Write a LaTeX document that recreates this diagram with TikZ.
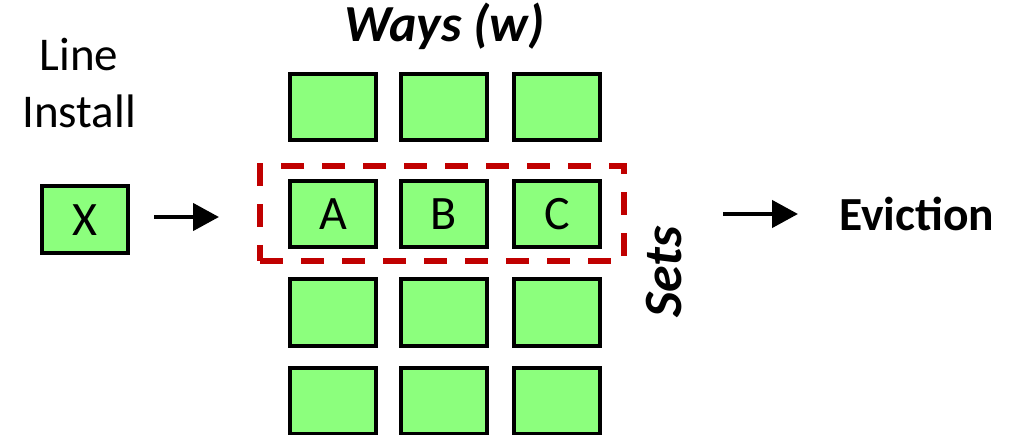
\documentclass[tikz,border=0pt]{standalone}
\usepackage{fontspec}
\setmainfont{Carlito}
\usetikzlibrary{arrows.meta}
\definecolor{cellgreen}{RGB}{140,255,125}
\definecolor{setred}{RGB}{192,0,0}

\begin{document}
\begin{tikzpicture}[x=1pt,y=-1pt,
  cell/.style={draw=black, line width=4pt, fill=cellgreen,
    minimum width=86pt, minimum height=66pt, inner sep=0pt,
    font=\fontsize{48}{58}\selectfont},
  flow/.style={line width=4.5pt, -{Triangle[length=26pt,width=27pt]}},
  setbox/.style={draw=setred, line width=5.5pt, dash pattern=on 23pt off 18pt,
    inner sep=0pt, minimum width=364pt, minimum height=95pt},
  label/.style={inner sep=0pt, anchor=base},
]
\useasboundingbox (0,0) rectangle (1016,435);

% incoming line
\node[label, font=\fontsize{47}{57}\selectfont] (lbl1) at (79,71) {Line};
\node[label, font=\fontsize{47}{57}\selectfont] (lbl2) at (79,128) {Install};
\node[cell, minimum height=67pt] (X) at (85,220) {X};

% cache array: 4 sets x 3 ways
\node[label, font=\bfseries\itshape\fontsize{52}{62}\selectfont] (ways) at (444.5,42) {Ways (w)};
\foreach \r/\y in {1/107.5, 2/214, 3/312.5, 4/401}{
  \foreach \c/\x in {1/333, 2/444, 3/557}{
    \node[cell] (c\r\c) at (\x,\y) {};
  }
}
\node at (c21) [font=\fontsize{48}{58}\selectfont] {A};
\node at (c22) [font=\fontsize{48}{58}\selectfont] {B};
\node at (c23) [font=\fontsize{48}{58}\selectfont] {C};

% highlighted set
\node[setbox] (setrow) at (442,213.4) {};
\node[rotate=90, inner sep=0pt, font=\bfseries\itshape\fontsize{54}{64}\selectfont] (sets) at (664,272) {Sets};

% flow arrows
\coordinate (a1s) at (154,217);
\coordinate (a1e) at (219,217);
\coordinate (a2s) at (723,214);
\coordinate (a2e) at (798,214);
\draw[flow] (a1s) -- (a1e);
\draw[flow] (a2s) -- (a2e);

\node[inner sep=0pt, anchor=base west, font=\bfseries\fontsize{47.5}{57}\selectfont] (evict) at (839,231) {Eviction};
\end{tikzpicture}
\end{document}
